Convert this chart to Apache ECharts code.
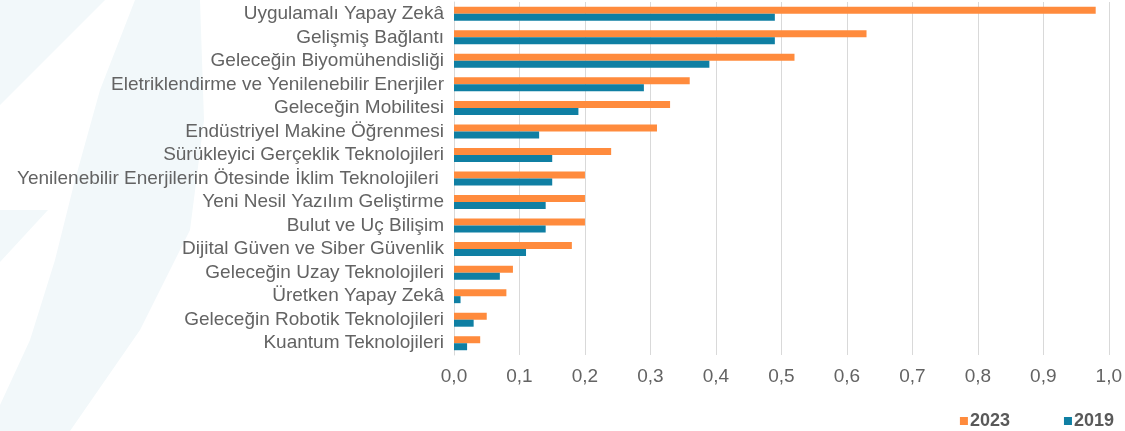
<!DOCTYPE html>
<html>
<head>
<meta charset="utf-8">
<script src="https://cdn.jsdelivr.net/npm/echarts@6/dist/echarts.min.js"></script>
<style>
  body { margin: 0; background: #fff; }
  #chart { width: 1125px; height: 431px; }
</style>
</head>
<body>
<div id="chart"></div>
<script>
var categories = [
  'Uygulamalı Yapay Zekâ',
  'Gelişmiş Bağlantı',
  'Geleceğin Biyomühendisliği',
  'Eletriklendirme ve Yenilenebilir Enerjiler',
  'Geleceğin Mobilitesi',
  'Endüstriyel Makine Öğrenmesi',
  'Sürükleyici Gerçeklik Teknolojileri',
  'Yenilenebilir Enerjilerin Ötesinde İklim Teknolojileri ',
  'Yeni Nesil Yazılım Geliştirme',
  'Bulut ve Uç Bilişim',
  'Dijital Güven ve Siber Güvenlik',
  'Geleceğin Uzay Teknolojileri',
  'Üretken Yapay Zekâ',
  'Geleceğin Robotik Teknolojileri',
  'Kuantum Teknolojileri'
]
var values2023 = [0.98, 0.63, 0.52, 0.36, 0.33, 0.31, 0.24, 0.20, 0.20, 0.20, 0.18, 0.09, 0.08, 0.05, 0.04]
var values2019 = [0.49, 0.49, 0.39, 0.29, 0.19, 0.13, 0.15, 0.15, 0.14, 0.14, 0.11, 0.07, 0.01, 0.03, 0.02]
var xTicks = [0, 0.1, 0.2, 0.3, 0.4, 0.5, 0.6, 0.7, 0.8, 0.9, 1.0]

var orange = '#FF8B3D'
var teal = '#0F7FA3'
var textGray = '#636363'
var font = 'Liberation Sans, Arial, sans-serif'
var wm = '#F2F8FA'   // faint watermark on the left

var chart = echarts.init(document.getElementById('chart'))
chart.setOption({
  animation: false,
  textStyle: { fontFamily: font },
  // faint logo shapes behind the labels
  graphic: [
    { type: 'polygon', z: -10, silent: true,
      shape: { points: [[0, 0], [105, 0], [0, 105]] }, style: { fill: wm } },
    { type: 'polygon', z: -10, silent: true,
      shape: { points: [[135, 0], [200, 0], [204, 120], [190, 230], [140, 330], [70, 431], [0, 431], [0, 405],
                        [30, 340], [55, 260], [75, 180], [100, 90]] },
      style: { fill: wm } },
    { type: 'polygon', z: -10, silent: true,
      shape: { points: [[0, 210], [48, 210], [0, 262]] }, style: { fill: wm } }
  ],
  grid: { left: 454, right: 16, top: 2, bottom: 76 },
  legend: {
    right: 6,
    bottom: -4,
    itemWidth: 8,
    itemHeight: 8,
    itemGap: 54,
    icon: 'rect',
    textStyle: { fontSize: 18, fontWeight: 'bold', color: '#595959', padding: [0, 0, 0, -3] },
    data: ['2023', '2019']
  },
  xAxis: {
    type: 'value',
    min: xTicks[0],
    max: xTicks[xTicks.length - 1],
    interval: 0.1,
    axisLine: { show: false },
    axisTick: { show: false },
    splitLine: { lineStyle: { color: '#D9D9D9', width: 1 } },
    axisLabel: {
      fontSize: 19,
      color: textGray,
      margin: 12,
      formatter: function (v) { return v.toFixed(1).replace('.', ',') }
    }
  },
  yAxis: {
    type: 'category',
    inverse: true,
    data: categories,
    axisLine: { lineStyle: { color: '#D9D9D9' } },
    axisTick: { show: false },
    axisLabel: { fontSize: 19, color: textGray, margin: 10, interval: 0, hideOverlap: false }
  },
  series: [
    {
      name: '2023',
      type: 'bar',
      data: values2023,
      barWidth: 7,
      barGap: '0%',
      itemStyle: { color: orange }
    },
    {
      name: '2019',
      type: 'bar',
      data: values2019,
      barWidth: 7,
      barGap: '0%',
      itemStyle: { color: teal }
    }
  ]
})
</script>
</body>
</html>
